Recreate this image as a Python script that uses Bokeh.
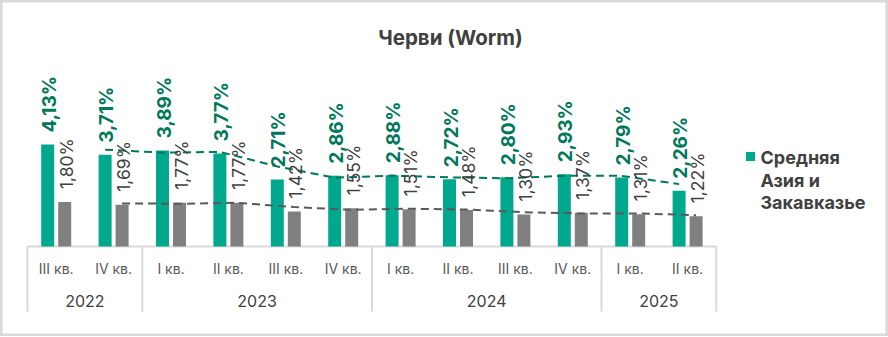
import math
from bokeh.plotting import figure
from bokeh.models import ColumnDataSource, Range1d
from bokeh.core.properties import value
from bokeh.embed import file_html
from bokeh.resources import INLINE

# ---- data ----
title_text = "Черви (Worm)"
quarters = ["III кв.", "IV кв.", "I кв.", "II кв.", "III кв.", "IV кв.",
            "I кв.", "II кв.", "III кв.", "IV кв.", "I кв.", "II кв."]
years = ["2022", "2023", "2024", "2025"]
year_counts = [2, 4, 4, 2]
region_vals = [4.13, 3.71, 3.89, 3.77, 2.71, 2.86, 2.88, 2.72, 2.80, 2.93, 2.79, 2.26]
world_vals = [1.80, 1.69, 1.77, 1.77, 1.42, 1.55, 1.51, 1.48, 1.30, 1.37, 1.31, 1.22]
legend_lines = ["Средняя", "Азия и", "Закавказье"]

# ---- layout helpers (pixel geometry -> data units) ----
W, H = 888, 336
SX = 57.4          # px per category
SY = 24.7          # px per percent
X0 = -0.5 - 27 / SX
Y1 = 246 / SY


def px_x(px):
    return X0 + px / SX


def px_y(py):
    return Y1 - py / SY


FONT = "Inter"
GREEN = "#00A88E"
GREEN_DARK = "#00785C"
GRAY = "#808080"
TXT = "#404040"

p = figure(width=W, height=H, output_backend="svg", toolbar_location=None,
           x_range=Range1d(X0, X0 + W / SX), y_range=Range1d(px_y(H), Y1),
           min_border=0, min_border_left=0, min_border_right=0,
           min_border_top=0, min_border_bottom=0)
p.axis.visible = False
p.grid.visible = False
p.background_fill_color = "white"
p.border_fill_color = "white"
p.outline_line_color = "#D9D9D9"
p.outline_line_width = 4

n = len(quarters)
idx = list(range(n))
off = 8.5 / SX
bw = 13 / SX

src = ColumnDataSource(dict(
    xg=[i - off for i in idx], xw=[i + off for i in idx],
    g=region_vals, w=world_vals,
    gl=[f"{v:.2f}%".replace(".", ",") for v in region_vals],
    wl=[f"{v:.2f}%".replace(".", ",") for v in world_vals],
))

# axis frame: baseline + group separators
edges = [-0.5]
for c in year_counts:
    edges.append(edges[-1] + c)
p.segment(x0=edges, x1=edges, y0=[0] * len(edges), y1=[px_y(311)] * len(edges),
          line_color="#D9D9D9", line_width=2)
p.segment(x0=[-0.5], x1=[n - 0.5], y0=[0], y1=[0], line_color="#D9D9D9", line_width=2)

# bars
p.vbar(x="xg", top="g", width=bw, bottom=0, source=src, fill_color=GREEN, line_color=None)
p.vbar(x="xw", top="w", width=bw, bottom=0, source=src, fill_color=GRAY, line_color=None)

# 2-period moving average trend lines
ma_g = [(region_vals[i - 1] + region_vals[i]) / 2 for i in range(1, n)]
ma_w = [(world_vals[i - 1] + world_vals[i]) / 2 for i in range(1, n)]
p.line([i - off for i in idx[1:]], ma_g, line_color=GREEN_DARK, line_width=2, line_dash="8 5")
p.line([i + off for i in idx[1:]], ma_w, line_color="#595959", line_width=2, line_dash="8 5")

# value labels
p.text(x="xg", y="g", text="gl", source=src, angle=math.pi / 2,
       text_align="left", text_baseline="middle", y_offset=-12, x_offset=1.5,
       text_font=value(FONT), text_font_style="bold", text_font_size="19px",
       text_color=GREEN_DARK)
p.text(x="xw", y="w", text="wl", source=src, angle=math.pi / 2,
       text_align="left", text_baseline="middle", y_offset=-13, x_offset=1.5,
       text_font=value(FONT), text_font_size="17.5px", text_color=TXT)

# category labels
p.text(x=idx, y=[px_y(268)] * n, text=quarters, text_align="center", text_baseline="middle",
       text_font=value(FONT), text_font_size="14px", text_color="#595959")
ycent = [(edges[k] + edges[k + 1]) / 2 for k in range(len(years))]
p.text(x=ycent, y=[px_y(300)] * len(years), text=years, text_align="center",
       text_baseline="middle", text_font=value(FONT), text_font_size="16px", text_color=TXT)

# title
p.text(x=[px_x(450)], y=[px_y(37)], text=[title_text], text_align="center",
       text_baseline="middle", text_font=value(FONT), text_font_style="bold",
       text_font_size="20.5px", text_color=TXT)

# legend
p.scatter(x=[px_x(750)], y=[px_y(156)], marker="square", size=9,
          fill_color=GREEN, line_color=None)
p.text(x=[px_x(760)] * 3, y=[px_y(157 + 22.5 * k) for k in range(3)], text=legend_lines,
       text_align="left", text_baseline="middle", text_font=value(FONT),
       text_font_style="bold", text_font_size="18px", text_color=TXT)

open("out.html", "w").write(file_html(p, INLINE))
